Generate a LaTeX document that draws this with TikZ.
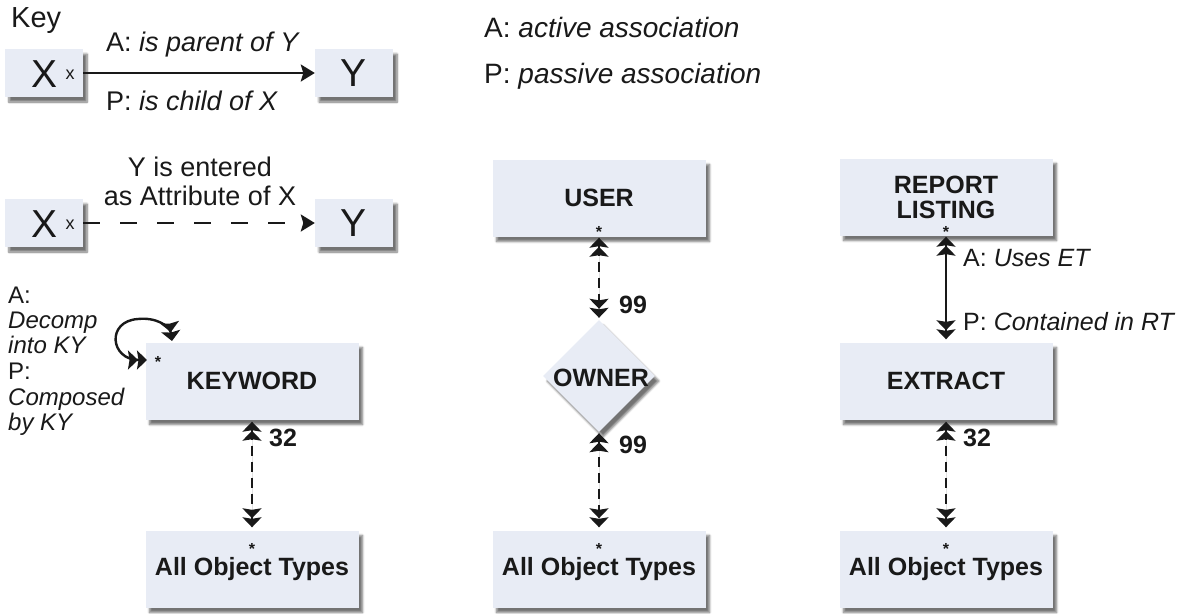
\documentclass[tikz,border=0pt]{standalone}
\usepackage{fontspec}
\setmainfont{Liberation Sans}
\usetikzlibrary{arrows.meta,shapes.geometric,shadows.blur}
\definecolor{boxfill}{RGB}{232,236,245}
\definecolor{ink}{RGB}{25,25,25}
\tikzset{
  shd/.style={blur shadow={shadow xshift=4pt, shadow yshift=-5pt, shadow blur steps=8, shadow opacity=55}},
  box/.style={fill=boxfill, minimum width=213pt, minimum height=77pt, inner sep=0pt, align=center, shd, text=ink, font=\fontsize{25}{25}\selectfont\bfseries},
  keybox/.style={fill=boxfill, minimum width=78pt, minimum height=48pt, inner sep=0pt, shd, text=ink, font=\fontsize{39}{39}\selectfont},
  lbl/.style={font=\fontsize{25}{25}\selectfont, inner sep=0pt, text=ink},
  numlbl/.style={font=\fontsize{25}{25}\selectfont\bfseries, inner sep=0pt, text=ink},
  keylbl/.style={font=\fontsize{27}{27}\selectfont, inner sep=0pt, text=ink},
  sidelbl/.style={font=\fontsize{24}{24}\selectfont, inner sep=0pt, align=left, text=ink},
  starlbl/.style={font=\fontsize{16}{16}\selectfont\bfseries, inner sep=0pt, text=ink},
  dbl/.tip={Stealth[length=10pt,width=19pt,inset=1.5pt,sep=-1pt] Stealth[length=10pt,width=19pt,inset=1.5pt]},
  conn/.style={line width=2.4pt, draw=ink, fill=ink, dbl-dbl},
  dashconn/.style={conn, dash pattern=on 10pt off 6pt},
  keyarrow/.style={line width=2.4pt, draw=ink, -{Stealth[length=14pt,width=17pt,inset=2.5pt]}},
}
\begin{document}
\begin{tikzpicture}[x=1pt,y=-1pt]
\useasboundingbox (0,0) rectangle (1182,613);
% key
\node[font=\fontsize{29}{29}\selectfont, inner sep=0pt, anchor=west, text=ink] (key) at (11,21) {Key};
\node[keybox] (x1) at (44,73) {};
\node[font=\fontsize{39}{39}\selectfont, inner sep=0pt, text=ink] (x1t) at (45,74) {X};
\node[font=\fontsize{18}{18}\selectfont, inner sep=0pt, text=ink] (x1s) at (70,75) {x};
\node[keybox] (y1) at (354,73) {Y};
\draw[keyarrow] (x1.east) -- (y1.west);
\node[keylbl, anchor=west] (a1) at (106,45) {A: \textit{is parent of Y}};
\node[keylbl, anchor=west] (p1) at (106,101) {P: \textit{is child of X}};

\node[keybox] (x2) at (44,223) {};
\node[font=\fontsize{39}{39}\selectfont, inner sep=0pt, text=ink] (x2t) at (45,224) {X};
\node[font=\fontsize{18}{18}\selectfont, inner sep=0pt, text=ink] (x2s) at (70,225) {x};
\node[keybox] (y2) at (354,223) {Y};
\draw[keyarrow, dash pattern=on 17pt off 20pt] (x2.east) -- (y2.west);
\node[keylbl, align=center] (att) at (200,181) {Y is entered\\[2pt]as Attribute of X};

\node[font=\fontsize{28}{28}\selectfont, inner sep=0pt, text=ink, anchor=west] (aa) at (484,27) {A: \textit{active association}};
\node[font=\fontsize{28}{28}\selectfont, inner sep=0pt, text=ink, anchor=west] (pa) at (484,76) {P: \textit{passive association}};

% column 1
\node[sidelbl, anchor=north west] (side) at (8,287) {A:\\[1pt]\textit{Decomp}\\[1pt]\textit{into KY}\\[2pt]P:\\[2pt]\textit{Composed}\\[1pt]\textit{by KY}};
\node[box] (kw) at (252,381) {KEYWORD};
\node[box] (all1) at (252,569) {All Object Types};
\coordinate (l1) at (147,360);
\coordinate (l2) at (172,341);
\draw[conn, fill=none] (l1) .. controls (110,360) and (106,321) .. (138,319) .. controls (156,317) and (170,326) .. (l2);
\node[starlbl] (s0) at (158,362) {*};
\draw[dashconn] ([yshift=-2pt]kw.south) -- ([yshift=3pt]all1.north);
\node[numlbl, anchor=west] (n32a) at (269,438) {32};
\node[starlbl] (s1) at (252,549) {*};

% column 2
\node[box] (user) at (599,198) {USER};
\node[diamond, fill=boxfill, minimum width=112pt, minimum height=112pt, inner sep=0pt, shd] (own) at (599,376) {};
\node[font=\fontsize{25}{25}\selectfont\bfseries, inner sep=0pt, text=ink] (ownt) at (601,378) {OWNER};
\node[box] (all2) at (599,569) {All Object Types};
\node[starlbl] (s2) at (599,232) {*};
\draw[dashconn] ([yshift=-1pt]user.south) -- ([yshift=2pt]own.north);
\node[numlbl, anchor=west] (n99a) at (619,305) {99};
\draw[dashconn] ([yshift=-1pt]own.south) -- ([yshift=3pt]all2.north);
\node[numlbl, anchor=west] (n99b) at (619,445) {99};
\node[starlbl] (s3) at (599,549) {*};

% column 3
\node[box] (rep) at (946,197) {REPORT\\[0pt]LISTING};
\node[box] (ext) at (946,381) {EXTRACT};
\node[box] (all3) at (946,569) {All Object Types};
\node[starlbl] (s4) at (946,232) {*};
\draw[conn] ([yshift=-1pt]rep.south) -- ([yshift=3pt]ext.north);
\node[lbl, anchor=west] (ause) at (963,258) {A: \textit{Uses ET}};
\node[lbl, anchor=west] (pcon) at (963,322) {P: \textit{Contained in RT}};
\draw[dashconn] ([yshift=-2pt]ext.south) -- ([yshift=3pt]all3.north);
\node[numlbl, anchor=west] (n32b) at (963,438) {32};
\node[starlbl] (s5) at (946,549) {*};
\end{tikzpicture}
\end{document}
